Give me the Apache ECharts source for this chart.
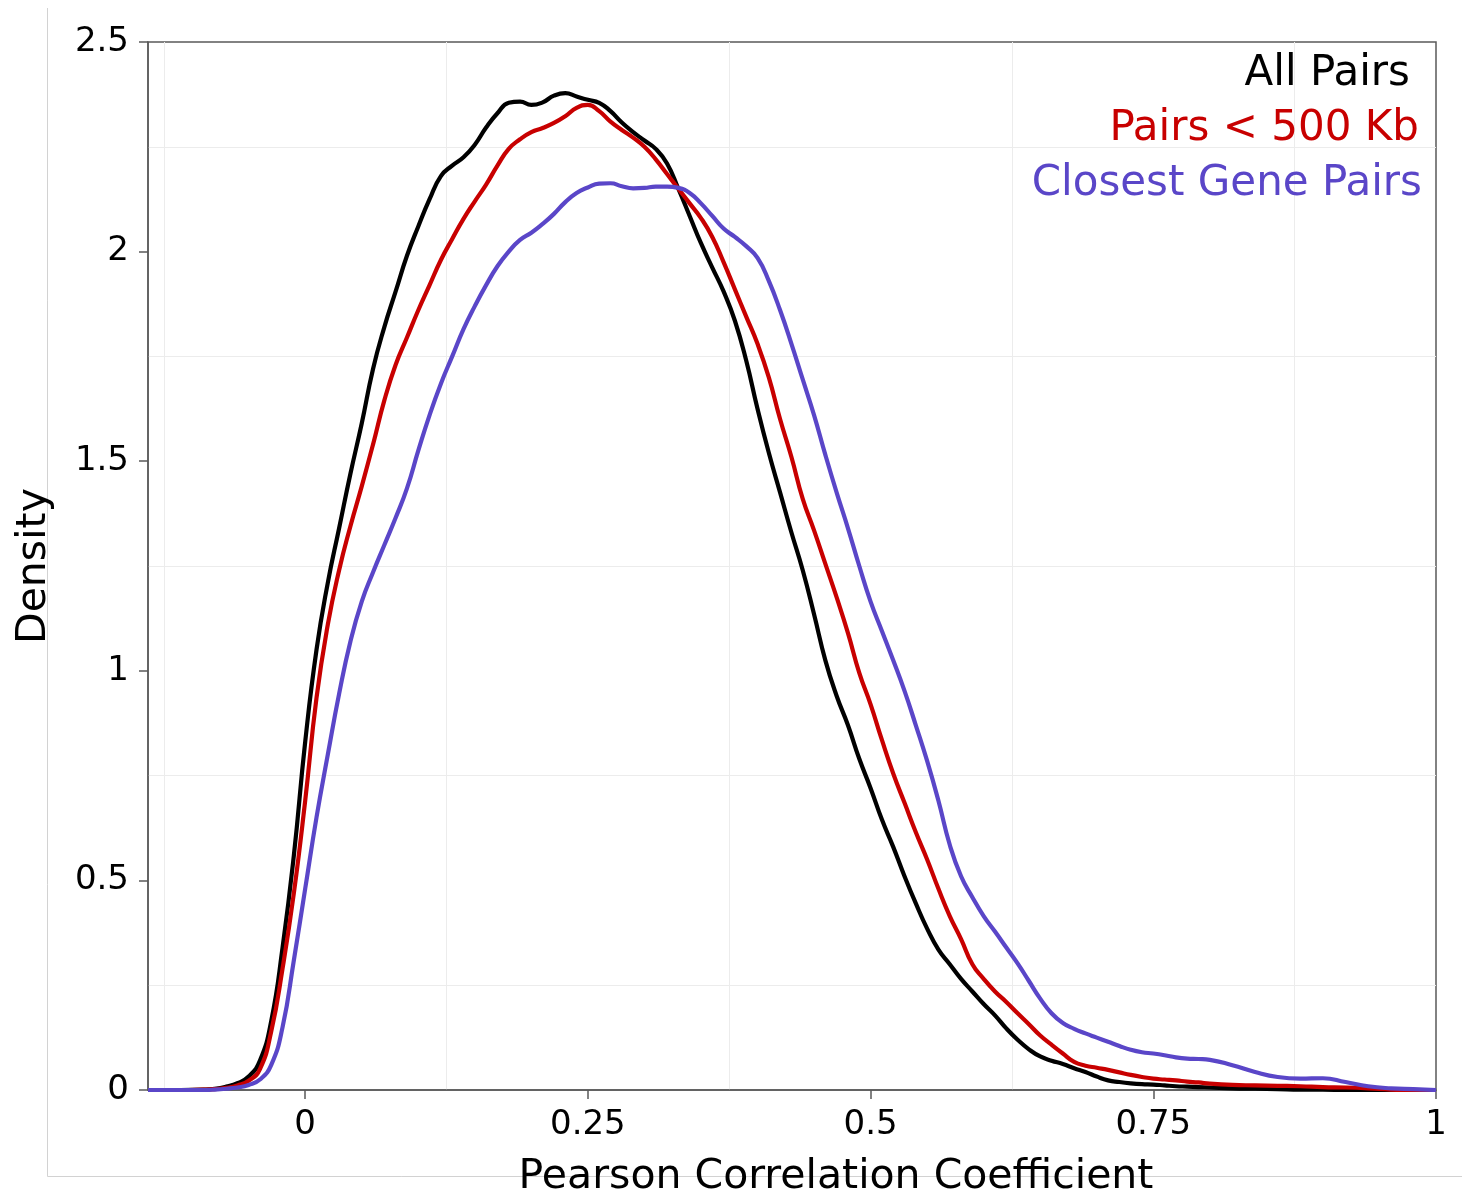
<!DOCTYPE html>
<html>
<head>
<meta charset="utf-8">
<script src="https://cdn.jsdelivr.net/npm/echarts@6/dist/echarts.min.js"></script>
<style>
html,body{margin:0;padding:0;background:#fff;}
#chart{width:1462px;height:1196px;}
</style>
</head>
<body>
<div id="chart"></div>
<script>
// Sample positions (Pearson correlation coefficient)
const xs = [-0.139,-0.11,-0.09,-0.08,-0.07,-0.06,-0.05,-0.04,-0.03,-0.02,-0.01,
  0.00,0.01,0.02,0.03,0.04,0.05,0.06,0.07,0.08,0.09,
  0.10,0.11,0.12,0.13,0.14,0.15,0.16,0.17,0.18,0.19,
  0.20,0.21,0.22,0.23,0.24,0.25,0.26,0.27,0.28,0.29,
  0.30,0.31,0.32,0.33,0.34,0.35,0.36,0.37,0.38,0.39,
  0.40,0.41,0.42,0.43,0.44,0.45,0.46,0.47,0.48,0.49,
  0.50,0.51,0.52,0.53,0.54,0.55,0.56,0.57,0.58,0.59,
  0.60,0.61,0.62,0.63,0.64,0.65,0.66,0.67,0.68,0.69,
  0.70,0.71,0.72,0.73,0.74,0.75,0.76,0.77,0.78,0.79,
  0.80,0.82,0.84,0.86,0.88,0.90,0.92,0.94,0.96,0.98,1.00];

// Density: All Pairs
const allPairs = [0,0,0.001,0.003,0.008,0.016,0.032,0.07,0.165,0.34,0.56,
  0.83,1.05,1.21,1.34,1.47,1.59,1.72,1.82,1.905,1.99,
  2.06,2.125,2.18,2.205,2.225,2.255,2.296,2.33,2.355,2.358,
  2.35,2.356,2.372,2.378,2.37,2.362,2.355,2.335,2.308,2.285,
  2.265,2.245,2.21,2.15,2.085,2.02,1.962,1.905,1.835,1.74,
  1.625,1.52,1.425,1.33,1.24,1.135,1.025,0.94,0.87,0.79,
  0.72,0.645,0.58,0.51,0.445,0.385,0.335,0.30,0.265,0.235,
  0.205,0.178,0.147,0.12,0.097,0.08,0.07,0.062,0.052,0.043,
  0.032,0.023,0.019,0.016,0.014,0.013,0.011,0.009,0.008,0.007,
  0.006,0.004,0.003,0.002,0.001,0.001,0,0,0,0,0];

// Density: Pairs < 500 Kb
const pairs500kb = [0,0,0.001,0.002,0.005,0.011,0.022,0.05,0.14,0.29,0.47,
  0.69,0.935,1.11,1.24,1.345,1.44,1.54,1.645,1.73,1.795,
  1.86,1.92,1.98,2.03,2.078,2.12,2.16,2.205,2.245,2.268,
  2.285,2.295,2.307,2.323,2.343,2.35,2.335,2.31,2.29,2.272,
  2.25,2.22,2.185,2.15,2.115,2.08,2.035,1.975,1.91,1.845,
  1.78,1.70,1.60,1.51,1.41,1.335,1.255,1.175,1.09,0.995,
  0.92,0.835,0.755,0.685,0.615,0.55,0.48,0.415,0.36,0.30,
  0.265,0.235,0.21,0.183,0.157,0.13,0.108,0.087,0.067,0.058,
  0.053,0.048,0.042,0.036,0.031,0.027,0.025,0.023,0.02,0.018,
  0.015,0.012,0.011,0.01,0.009,0.007,0.006,0.004,0.001,0,0];

// Density: Closest Gene Pairs
const closestPairs = [0,0,0,0.001,0.003,0.006,0.012,0.025,0.06,0.15,0.31,
  0.48,0.65,0.80,0.945,1.07,1.165,1.235,1.30,1.365,1.435,
  1.525,1.61,1.685,1.75,1.815,1.87,1.92,1.965,2.0,2.028,
  2.045,2.066,2.09,2.118,2.14,2.153,2.162,2.163,2.156,2.151,
  2.152,2.155,2.155,2.152,2.14,2.115,2.085,2.055,2.035,2.013,
  1.985,1.93,1.86,1.78,1.695,1.61,1.515,1.425,1.34,1.25,
  1.165,1.095,1.025,0.952,0.87,0.785,0.69,0.585,0.51,0.46,
  0.415,0.378,0.34,0.302,0.26,0.218,0.183,0.16,0.146,0.135,
  0.125,0.115,0.105,0.096,0.09,0.087,0.083,0.078,0.075,0.074,
  0.072,0.059,0.043,0.031,0.027,0.028,0.019,0.009,0.004,0.002,0];

const seriesNames = ['All Pairs', 'Pairs < 500 Kb', 'Closest Gene Pairs'];
const seriesColors = ['#000000', '#C80000', '#5A46C8'];
const xTicks = [0, 0.25, 0.5, 0.75, 1];
const xTickLabels = ['0', '0.25', '0.5', '0.75', '1'];
const xGridValues = [-0.125, 0.125, 0.375, 0.625, 0.875];
const xTitle = 'Pearson Correlation Coefficient';
const yTitle = 'Density';

const FONT = 'DejaVu Sans';
const AXIS_COLOR = '#5a5a5a';

function pairs(ys) { return xs.map((x, i) => [x, ys[i]]); }

const chart = echarts.init(document.getElementById('chart'), null, {renderer: 'canvas'});
const option = {
  backgroundColor: '#ffffff',
  animation: false,
  grid: {left: 148, right: 26, top: 42, bottom: 106, show: true,
         borderColor: AXIS_COLOR, borderWidth: 1.5, backgroundColor: 'transparent'},
  xAxis: [{
    type: 'value', min: -0.139, max: 1,
    axisLine: {show: true, onZero: false, lineStyle: {color: AXIS_COLOR, width: 1.5}},
    axisTick: {show: true, inside: false, length: 9, customValues: xTicks,
               lineStyle: {color: AXIS_COLOR, width: 1.5}},
    axisLabel: {show: true, customValues: xTicks, margin: 18,
                fontFamily: FONT, fontSize: 34, color: '#000',
                formatter: v => { const i = xTicks.indexOf(+v.toFixed(3)); return i >= 0 ? xTickLabels[i] : ''; }},
    splitLine: {show: false}
  }, {
    type: 'value', min: -0.139, max: 1, position: 'bottom',
    axisLine: {show: false, onZero: false},
    axisTick: {show: false, customValues: xGridValues},
    axisLabel: {show: false, customValues: xGridValues},
    splitLine: {show: true, lineStyle: {color: '#ececec', width: 1}}
  }],
  yAxis: {
    type: 'value', min: 0, max: 2.5, interval: 0.5,
    name: yTitle, nameLocation: 'middle', nameGap: 93, nameRotate: 90,
    nameTextStyle: {fontFamily: FONT, fontSize: 41, color: '#000'},
    axisLine: {show: true, onZero: false, lineStyle: {color: AXIS_COLOR, width: 1.5}},
    axisTick: {show: true, inside: false, length: 9, lineStyle: {color: AXIS_COLOR, width: 1.5}},
    axisLabel: {margin: 19, fontFamily: FONT, fontSize: 34, color: '#000',
                formatter: v => String(+v.toFixed(2))},
    splitLine: {show: false},
    minorTick: {show: false, splitNumber: 2},
    minorSplitLine: {show: true, lineStyle: {color: '#ececec', width: 1}}
  },
  series: seriesNames.map((name, i) => ({
    name: name, type: 'line', xAxisIndex: 0,
    data: pairs([allPairs, pairs500kb, closestPairs][i]),
    showSymbol: false, smooth: 0.5,
    lineStyle: {color: seriesColors[i], width: 4.2},
    itemStyle: {color: seriesColors[i]},
    z: 3 + i
  })),
  graphic: [
    {type: 'line', silent: true, z: -1, shape: {x1: 47.5, y1: 8, x2: 47.5, y2: 1176.5},
     style: {stroke: '#d2d2d2', lineWidth: 1}},
    {type: 'line', silent: true, z: -1, shape: {x1: 47.5, y1: 1176.5, x2: 1462, y2: 1176.5},
     style: {stroke: '#d2d2d2', lineWidth: 1}},
    {type: 'text', x: 836, y: 1177, z: 10,
     style: {text: xTitle, fill: '#000', font: '41px "DejaVu Sans"', textAlign: 'center', textVerticalAlign: 'middle'}},
    {type: 'text', x: 1410, y: 74, z: 10,
     style: {text: seriesNames[0], fill: seriesColors[0], font: '42px "DejaVu Sans"', textAlign: 'right', textVerticalAlign: 'middle'}},
    {type: 'text', x: 1419, y: 129, z: 10,
     style: {text: seriesNames[1], fill: seriesColors[1], font: '42px "DejaVu Sans"', textAlign: 'right', textVerticalAlign: 'middle'}},
    {type: 'text', x: 1422, y: 184, z: 10,
     style: {text: seriesNames[2], fill: seriesColors[2], font: '42px "DejaVu Sans"', textAlign: 'right', textVerticalAlign: 'middle'}}
  ]
};
chart.setOption(option);
</script>
</body>
</html>
